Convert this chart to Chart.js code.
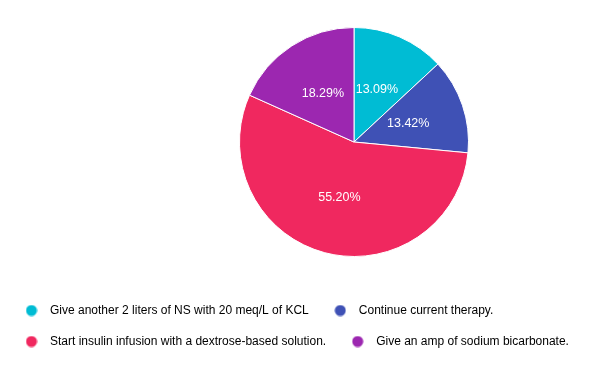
<!DOCTYPE html>
<html>
<head>
<meta charset="utf-8">
<script src="https://cdn.jsdelivr.net/npm/chart.js@4.4.1/dist/chart.umd.min.js"></script>
<style>
  html, body { margin: 0; padding: 0; background: #fff; }
  #wrap { width: 600px; height: 371px; }
</style>
</head>
<body>
<div id="wrap"><canvas id="pie-chart"></canvas></div>
<script>
var answers = [
  'Give another 2 liters of NS with 20 meq/L of KCL',
  'Continue current therapy.',
  'Start insulin infusion with a dextrose-based solution.',
  'Give an amp of sodium bicarbonate.'
];
var shares = [13.09, 13.42, 55.20, 18.29]; // percent of responses
var sliceColors = ['#00bcd4', '#3f51b5', '#f0285f', '#9c27b0'];

// legend dot: small circle centred in a wider box so the text sits further right
var dot = function (color) {
  var c = document.createElement('canvas');
  c.width = 12; c.height = 12;
  var g = c.getContext('2d');
  g.fillStyle = color;
  g.beginPath();
  g.arc(6, 6, 5.5, 0, Math.PI * 2);
  g.fill();
  return c;
};
var dots = sliceColors.map(dot);

// put the pie where the reference has it (right of centre)
var placePie = {
  id: 'placePie',
  afterLayout: function (chart) {
    var a = chart.chartArea;
    a.left = 239; a.right = 469; a.top = 27; a.bottom = 257;
    a.width = a.right - a.left; a.height = a.bottom - a.top;
  }
};

// percentage text inside each slice
var sliceLabels = {
  id: 'sliceLabels',
  afterDatasetsDraw: function (chart) {
    var ctx = chart.ctx;
    var meta = chart.getDatasetMeta(0);
    ctx.save();
    ctx.fillStyle = '#ffffff';
    ctx.font = '12.5px "Liberation Sans", Arial, sans-serif';
    ctx.textAlign = 'center';
    ctx.textBaseline = 'middle';
    meta.data.forEach(function (arc, i) {
      var p = arc.tooltipPosition();
      ctx.fillText(shares[i].toFixed(2) + '%', p.x, p.y);
    });
    ctx.restore();
  }
};

var ctx = document.getElementById('pie-chart').getContext('2d');
var pieChart = new Chart(ctx, {
  type: 'pie',
  data: {
    labels: answers,
    datasets: [{
      data: shares,
      backgroundColor: sliceColors,
      borderColor: '#ffffff',
      borderWidth: 1
    }]
  },
  options: {
    responsive: true,
    maintainAspectRatio: false,
    animation: false,
    layout: { padding: { bottom: 13.5 } },
    plugins: {
      legend: {
        position: 'bottom',
        align: 'start',
        labels: {
          usePointStyle: true,
          pointStyle: dots,
          pointStyleWidth: 25,
          boxHeight: 12,
          padding: 19,
          color: '#666666',
          font: { size: 12, family: '"Liberation Sans", Arial, sans-serif' },
          generateLabels: function (chart) {
            return answers.map(function (t, i) {
              return {
                text: t,
                fillStyle: sliceColors[i],
                strokeStyle: sliceColors[i],
                lineWidth: 0,
                pointStyle: dots[i],
                hidden: false,
                index: i
              };
            });
          }
        }
      },
      tooltip: { enabled: false }
    }
  },
  plugins: [placePie, sliceLabels]
});
</script>
</body>
</html>
